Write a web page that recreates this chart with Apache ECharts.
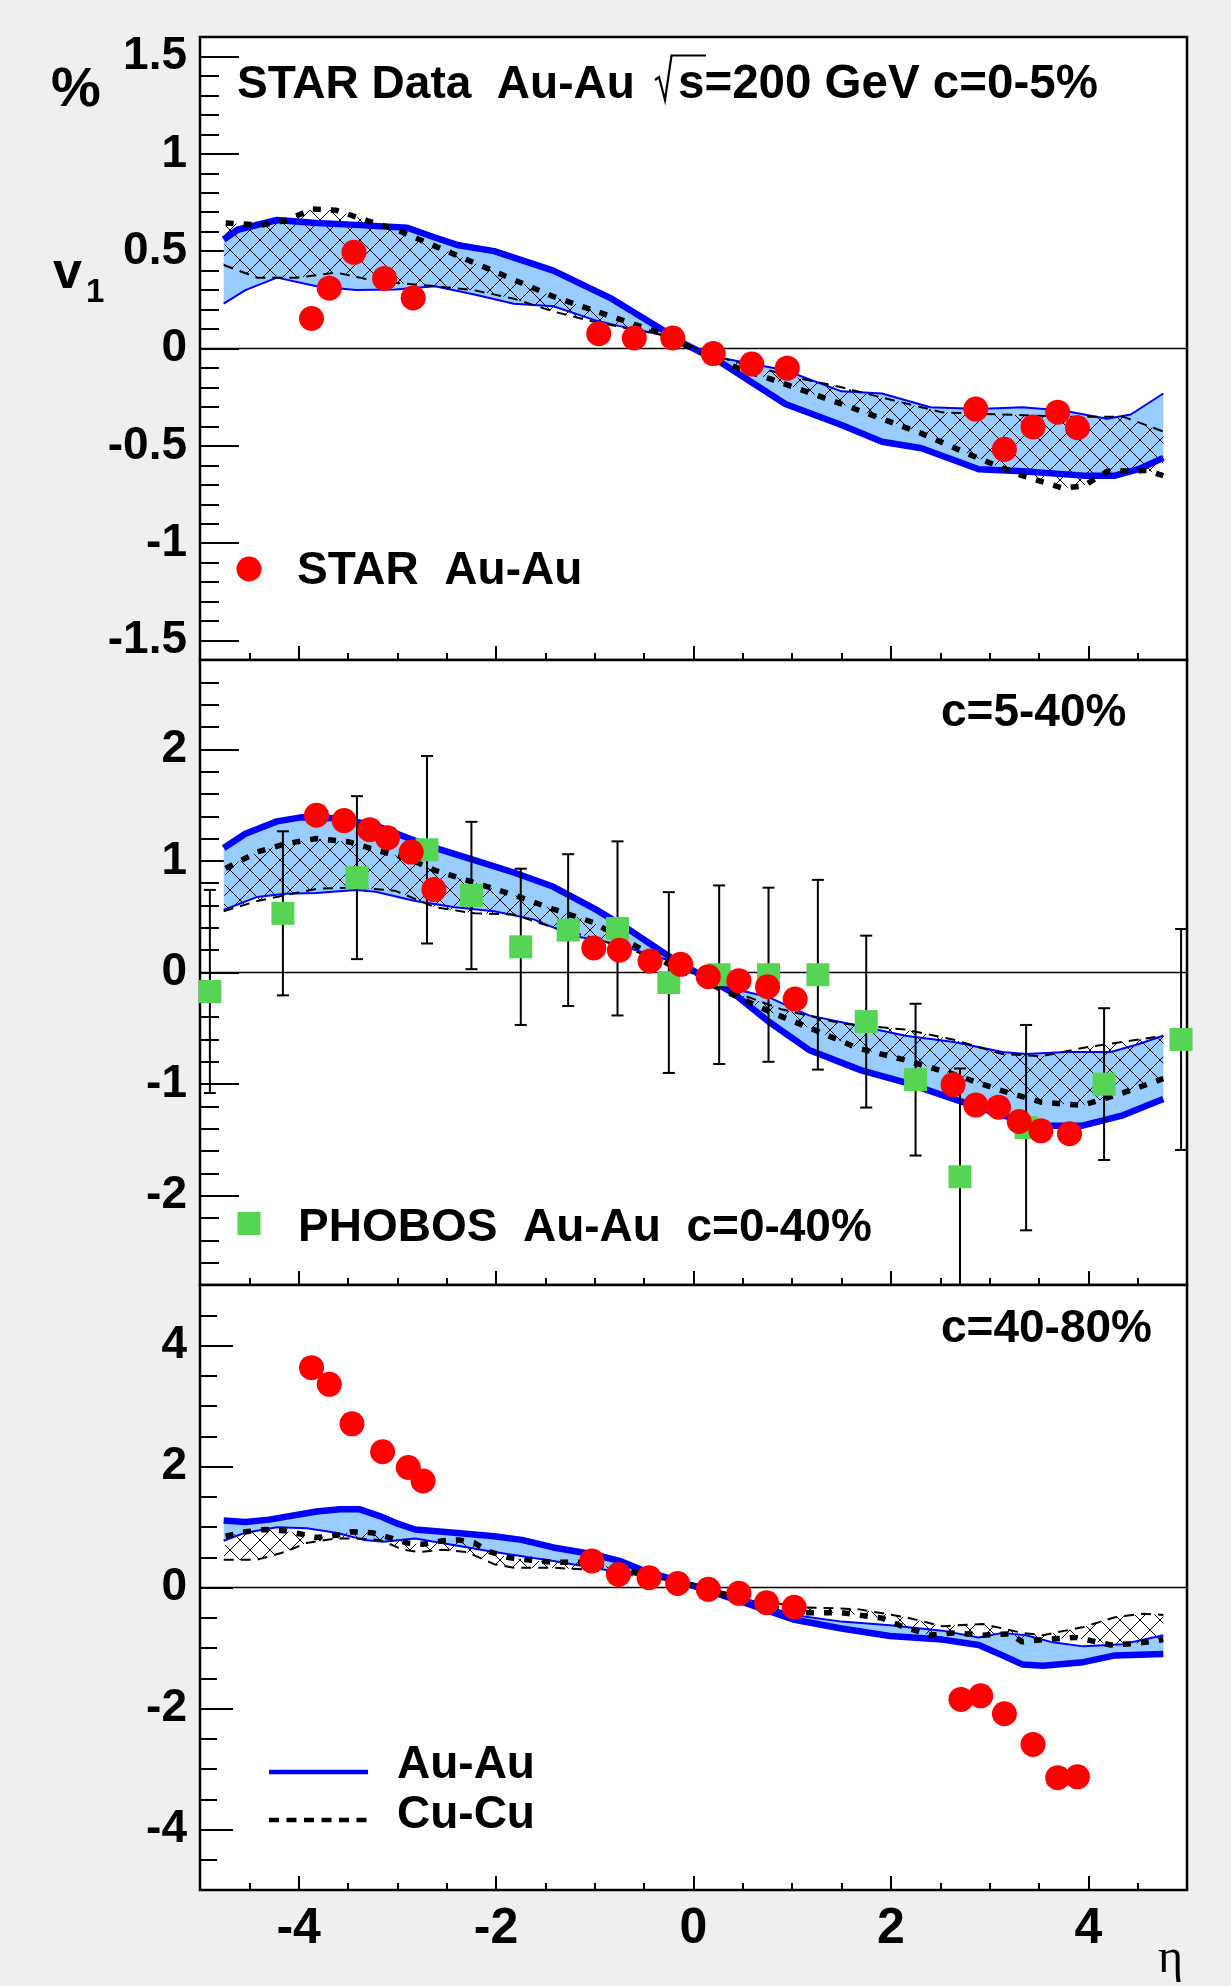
<!DOCTYPE html>
<html>
<head>
<meta charset="utf-8">
<title>STAR v1(eta)</title>
<script src="https://cdn.jsdelivr.net/npm/echarts@6/dist/echarts.min.js"></script>
<style>
html, body { margin: 0; padding: 0; background: #efefef; }
#main { width: 1231px; height: 1986px; }
</style>
</head>
<body>
<div id="main"></div>
<script>
// ---------- data ----------
// x ticks (eta)
var xMajor = [-4, -2, 0, 2, 4];

// panel 1 : c = 0-5%
var p1AuThick = [[-4.76,0.56],[-4.62,0.61],[-4.22,0.66],[-3.82,0.645],[-3.42,0.635],[-2.90,0.62],[-2.62,0.57],[-2.38,0.53],[-2.02,0.50],[-1.42,0.40],[-1.01,0.30],[-0.83,0.256],[-0.34,0.104],[-0.07,0.018],[0.27,-0.069],[0.93,-0.285],[1.50,-0.393],[1.91,-0.479],[2.31,-0.512],[2.89,-0.62],[3.33,-0.631],[3.95,-0.653],[4.27,-0.653],[4.51,-0.62],[4.76,-0.562]];
var p1AuThin = [[-4.76,0.23],[-4.54,0.30],[-4.22,0.364],[-3.82,0.32],[-3.42,0.30],[-3.02,0.303],[-2.62,0.32],[-2.22,0.277],[-1.82,0.23],[-1.42,0.217],[-1.01,0.147],[-0.75,0.115],[-0.34,0.072],[0.27,-0.047],[0.93,-0.112],[1.50,-0.22],[1.91,-0.231],[2.40,-0.302],[2.89,-0.311],[3.33,-0.302],[3.74,-0.318],[4.19,-0.361],[4.43,-0.339],[4.76,-0.231]];
var p1CuThick = [[-4.74,0.645],[-4.38,0.634],[-4.14,0.656],[-3.86,0.716],[-3.62,0.71],[-3.30,0.656],[-3.02,0.612],[-2.62,0.526],[-2.22,0.44],[-1.82,0.353],[-1.42,0.267],[-1.01,0.195],[-0.34,0.08],[0.27,-0.069],[0.77,-0.155],[1.50,-0.285],[2.31,-0.436],[2.89,-0.565],[3.33,-0.653],[3.74,-0.717],[3.95,-0.707],[4.19,-0.631],[4.60,-0.627],[4.76,-0.653]];
var p1CuThin = [[-4.76,0.429],[-4.42,0.364],[-4.02,0.364],[-3.62,0.39],[-3.22,0.346],[-2.62,0.32],[-2.22,0.299],[-1.82,0.256],[-1.42,0.19],[-1.01,0.137],[-0.34,0.072],[0.27,-0.047],[1.09,-0.155],[1.50,-0.199],[1.91,-0.252],[2.52,-0.328],[3.13,-0.339],[3.74,-0.35],[4.35,-0.35],[4.76,-0.426]];
var star1Eta = [-3.87,-3.69,-3.44,-3.13,-2.84,-0.96,-0.60,-0.21,0.20,0.59,0.95,2.86,3.15,3.44,3.69,3.89];
var star1V = [0.154,0.31,0.494,0.36,0.26,0.076,0.054,0.054,-0.026,-0.08,-0.101,-0.311,-0.518,-0.403,-0.327,-0.407];

// panel 2 : c = 5-40%
var p2AuThick = [[-4.76,1.116],[-4.54,1.244],[-4.22,1.354],[-3.98,1.39],[-3.62,1.383],[-3.22,1.317],[-2.90,1.207],[-2.62,1.116],[-2.22,1.006],[-1.82,0.896],[-1.42,0.768],[-1.0,0.57],[-0.68,0.40],[-0.25,0.146],[0.03,0],[0.40,-0.183],[0.76,-0.439],[1.17,-0.694],[1.70,-0.877],[2.15,-0.987],[2.64,-1.134],[3.13,-1.28],[3.53,-1.372],[3.94,-1.372],[4.35,-1.28],[4.76,-1.134]];
var p2AuThin = [[-4.76,0.56],[-4.42,0.677],[-4.14,0.706],[-3.82,0.713],[-3.42,0.739],[-3.22,0.724],[-2.82,0.64],[-2.42,0.585],[-2.02,0.549],[-1.62,0.476],[-1.22,0.33],[-0.82,0.263],[-0.25,0.11],[0.40,-0.146],[0.76,-0.22],[1.17,-0.384],[1.66,-0.475],[2.15,-0.567],[2.64,-0.622],[3.13,-0.713],[3.37,-0.731],[3.78,-0.713],[4.23,-0.713],[4.51,-0.64],[4.76,-0.567]];
var p2CuThick = [[-4.74,0.933],[-4.42,1.079],[-4.14,1.152],[-3.82,1.2],[-3.49,1.17],[-3.22,1.098],[-2.90,1.024],[-2.62,0.915],[-2.22,0.805],[-1.82,0.695],[-1.42,0.567],[-1.02,0.45],[-0.25,0.073],[0.40,-0.2],[0.76,-0.348],[1.17,-0.494],[1.66,-0.676],[2.15,-0.786],[2.64,-0.914],[3.13,-1.061],[3.53,-1.163],[3.94,-1.19],[4.35,-1.079],[4.76,-0.951]];
var p2CuThin = [[-4.76,0.549],[-4.42,0.64],[-4.22,0.677],[-3.82,0.75],[-3.42,0.761],[-3.02,0.732],[-2.62,0.585],[-2.22,0.53],[-1.82,0.52],[-1.42,0.402],[-1.02,0.311],[-0.25,0.09],[0.40,-0.17],[0.89,-0.329],[1.50,-0.457],[2.15,-0.512],[2.64,-0.603],[3.13,-0.731],[3.53,-0.75],[3.94,-0.676],[4.35,-0.622],[4.76,-0.567]];
var star2Eta = [-3.82,-3.54,-3.28,-3.10,-2.86,-2.63,-1.01,-0.75,-0.44,-0.13,0.15,0.46,0.75,1.03,2.63,2.86,3.09,3.30,3.52,3.81];
var star2V = [1.409,1.361,1.28,1.207,1.079,0.743,0.22,0.2,0.103,0.073,-0.037,-0.073,-0.128,-0.238,-1.005,-1.188,-1.207,-1.335,-1.419,-1.444];
var phobosEta = [-4.90,-4.16,-3.41,-2.70,-2.25,-1.75,-1.27,-0.77,-0.25,0.26,0.76,1.26,1.75,2.25,2.70,3.37,4.16,4.94];
var phobosV = [-0.17,0.53,0.85,1.10,0.69,0.23,0.38,0.395,-0.09,-0.02,-0.02,-0.02,-0.44,-0.96,-1.83,-1.39,-1.00,-0.60];
var phobosErr = [0.91,0.735,0.73,0.84,0.66,0.70,0.68,0.78,0.81,0.80,0.78,0.85,0.77,0.68,0.97,0.92,0.68,0.99];

// panel 3 : c = 40-80%
var p3AuThick = [[-4.76,1.107],[-4.54,1.084],[-4.30,1.122],[-3.82,1.256],[-3.58,1.292],[-3.38,1.292],[-3.18,1.181],[-3.02,1.069],[-2.82,0.959],[-2.42,0.906],[-2.02,0.847],[-1.74,0.787],[-1.42,0.662],[-1.02,0.55],[-0.75,0.44],[-0.54,0.30],[-0.01,0.03],[0.48,-0.231],[1.01,-0.528],[1.50,-0.677],[1.99,-0.802],[2.52,-0.861],[2.89,-0.95],[3.13,-1.122],[3.33,-1.271],[3.54,-1.294],[3.95,-1.234],[4.27,-1.122],[4.76,-1.099]];
var p3AuThin = [[-4.76,0.772],[-4.54,0.906],[-4.22,0.995],[-3.92,0.98],[-3.62,0.906],[-3.34,0.787],[-3.14,0.757],[-2.82,0.81],[-2.42,0.698],[-2.02,0.587],[-1.42,0.439],[-1.02,0.327],[-0.745,0.252],[-0.01,0.066],[0.48,-0.157],[1.01,-0.454],[1.50,-0.564],[1.99,-0.624],[2.52,-0.713],[2.89,-0.825],[3.13,-0.75],[3.37,-0.788],[3.62,-0.899],[3.95,-0.973],[4.35,-0.936],[4.76,-0.788]];
var p3CuThick = [[-4.74,0.847],[-4.54,0.921],[-4.34,0.959],[-4.14,0.936],[-3.98,0.885],[-3.82,0.826],[-3.62,0.862],[-3.46,0.921],[-3.26,0.906],[-3.10,0.833],[-2.90,0.737],[-2.74,0.714],[-2.54,0.773],[-2.38,0.787],[-2.22,0.737],[-2.06,0.587],[-1.86,0.491],[-1.66,0.454],[-1.42,0.417],[-1.10,0.417],[-0.745,0.312],[-0.01,0.03],[0.48,-0.194],[1.01,-0.417],[1.50,-0.417],[1.91,-0.506],[2.11,-0.64],[2.40,-0.788],[2.64,-0.75],[2.93,-0.788],[3.21,-0.766],[3.33,-0.899],[3.54,-0.861],[3.87,-0.825],[4.23,-0.95],[4.51,-0.921],[4.76,-0.861]];
var p3CuThin = [[-4.76,0.46],[-4.42,0.46],[-4.14,0.587],[-3.92,0.737],[-3.62,0.81],[-3.42,0.81],[-3.18,0.787],[-2.94,0.624],[-2.78,0.587],[-2.54,0.624],[-2.30,0.587],[-2.02,0.386],[-1.82,0.327],[-1.42,0.327],[-1.02,0.29],[-0.01,0.066],[0.48,-0.157],[1.09,-0.327],[1.66,-0.357],[2.15,-0.491],[2.52,-0.64],[2.93,-0.602],[3.33,-0.75],[3.54,-0.788],[3.95,-0.654],[4.27,-0.491],[4.56,-0.432],[4.76,-0.454]];
var star3Eta = [-3.87,-3.69,-3.46,-3.15,-2.89,-2.74,-1.03,-0.76,-0.45,-0.16,0.15,0.46,0.74,1.02,2.71,2.91,3.15,3.44,3.69,3.89];
var star3V = [3.634,3.358,2.705,2.244,1.983,1.761,0.439,0.215,0.163,0.066,-0.03,-0.097,-0.252,-0.327,-1.85,-1.79,-2.087,-2.594,-3.144,-3.129];

// y axes of the three pads
var yMin = [-1.6, -2.8, -5];
var yMax = [1.6, 2.8, 5];
var yMinorStep = [0.1, 0.2, 0.5];
var yMajor = [[-1.5,-1,-0.5,0,0.5,1,1.5], [-2,-1,0,1,2], [-4,-2,0,2,4]];

// ---------- styling ----------
var FONT = '"Liberation Sans", Arial, Helvetica, sans-serif';
var BLUE = '#0000ff', BAND = '#99ccff', RED = '#ff0000', GREEN = '#55d455';

var hatch = document.createElement('canvas');
hatch.width = 20; hatch.height = 20;
var hc = hatch.getContext('2d');
hc.strokeStyle = '#000'; hc.lineWidth = 1;
hc.beginPath();
hc.moveTo(-2, -2); hc.lineTo(22, 22);
hc.moveTo(22, -2); hc.lineTo(-2, 22);
hc.stroke();
var hatchFill = { image: hatch, repeat: 'repeat' };

var grids = [
  { left: 200, top: 37, width: 987, height: 623 },
  { left: 200, top: 660, width: 987, height: 625 },
  { left: 200, top: 1285, width: 987, height: 605 }
];
var yTickLen = [[39, 19], [39, 19], [33, 17]];

var xAxes = [], yAxes = [], series = [];
grids.forEach(function (g, gi) {
  g.show = true; g.backgroundColor = '#fff'; g.borderColor = '#000'; g.borderWidth = 2.5;
  xAxes.push({
    gridIndex: gi, type: 'value', min: -5, max: 5, interval: 0.5, position: 'bottom',
    axisLine: { show: false, onZero: false },
    axisTick: { inside: true, length: 7, lineStyle: { color: '#000', width: 2 } },
    axisLabel: { show: false }, splitLine: { show: false }
  });
  xAxes.push({
    gridIndex: gi, type: 'value', min: -5, max: 5, position: 'bottom',
    axisLine: { show: false, onZero: false },
    axisTick: { inside: true, length: 14, customValues: xMajor, lineStyle: { color: '#000', width: 2 } },
    axisLabel: { show: gi === 2, customValues: xMajor, margin: 14, color: '#000',
      fontSize: 50, fontWeight: 'bold', fontFamily: FONT },
    splitLine: { show: false }
  });
  yAxes.push({
    gridIndex: gi, type: 'value', min: yMin[gi], max: yMax[gi], interval: yMinorStep[gi], position: 'left',
    axisLine: { show: false, onZero: false },
    axisTick: { inside: true, length: yTickLen[gi][1], lineStyle: { color: '#000', width: 2 } },
    axisLabel: { show: false }, splitLine: { show: false }
  });
  yAxes.push({
    gridIndex: gi, type: 'value', min: yMin[gi], max: yMax[gi], position: 'left',
    axisLine: { show: false, onZero: false },
    axisTick: { inside: true, length: yTickLen[gi][0], customValues: yMajor[gi], lineStyle: { color: '#000', width: 2 } },
    axisLabel: { customValues: yMajor[gi], margin: 13, color: '#000',
      fontSize: 46, fontWeight: 'bold', fontFamily: FONT, padding: [7, 0, 0, 0] },
    splitLine: { show: false }
  });
});

function ax(gi) { return { xAxisIndex: gi * 2, yAxisIndex: gi * 2 }; }

function band(gi, a, b, fill) {
  return Object.assign({
    type: 'custom', silent: true, data: [[0, 0]], z: 1,
    renderItem: function (params, api) {
      var pts = a.map(function (p) { return api.coord(p); })
        .concat(b.slice().reverse().map(function (p) { return api.coord(p); }));
      return { type: 'polygon', shape: { points: pts }, style: { fill: fill, stroke: null } };
    }
  }, ax(gi));
}

function curve(gi, pts, color, width, dash, z) {
  return Object.assign({
    type: 'line', data: pts, showSymbol: false, symbol: 'none', silent: true, z: z,
    lineStyle: { color: color, width: width, type: dash || 'solid', cap: 'butt' }
  }, ax(gi));
}

function zeroLine(gi) {
  return Object.assign({
    type: 'line', data: [[-5, 0], [5, 0]], showSymbol: false, symbol: 'none', silent: true, z: 2,
    lineStyle: { color: '#000', width: 1.5 }
  }, ax(gi));
}

function zip(xs, ys) { return xs.map(function (x, i) { return [x, ys[i]]; }); }

function stars(gi, eta, v) {
  return Object.assign({
    type: 'scatter', data: zip(eta, v), symbol: 'circle', symbolSize: 25, clip: false, z: 6,
    itemStyle: { color: RED, opacity: 1 }, silent: true
  }, ax(gi));
}

var panels = [
  [p1AuThick, p1AuThin, p1CuThick, p1CuThin],
  [p2AuThick, p2AuThin, p2CuThick, p2CuThin],
  [p3AuThick, p3AuThin, p3CuThick, p3CuThin]
];
panels.forEach(function (c, gi) {
  series.push(band(gi, c[0], c[1], BAND));
  series.push(band(gi, c[2], c[3], hatchFill));
  series.push(zeroLine(gi));
  series.push(curve(gi, c[0], BLUE, 6.5, null, 3));
  series.push(curve(gi, c[1], BLUE, 2, null, 3));
  series.push(curve(gi, c[2], '#000', 5.5, [8, 10], 4));
  series.push(curve(gi, c[3], '#000', 2, [10, 7], 4));
});

// PHOBOS error bars and squares
series.push(Object.assign({
  type: 'custom', silent: true, clip: true, z: 5,
  data: phobosEta.map(function (x, i) { return [x, phobosV[i], phobosErr[i]]; }),
  encode: { x: 0, y: 1 },
  renderItem: function (params, api) {
    var x = api.value(0), y = api.value(1), e = api.value(2);
    var t = api.coord([x, y + e]), b = api.coord([x, y - e]);
    var st = { stroke: '#000', lineWidth: 2 };
    return { type: 'group', children: [
      { type: 'line', shape: { x1: t[0], y1: t[1], x2: b[0], y2: b[1] }, style: st },
      { type: 'line', shape: { x1: t[0] - 6, y1: t[1], x2: t[0] + 6, y2: t[1] }, style: st },
      { type: 'line', shape: { x1: b[0] - 6, y1: b[1], x2: b[0] + 6, y2: b[1] }, style: st }
    ] };
  }
}, ax(1)));
series.push(Object.assign({
  type: 'scatter', data: zip(phobosEta, phobosV), symbol: 'rect', symbolSize: 23, clip: false, z: 6,
  itemStyle: { color: GREEN, opacity: 1 }, silent: true
}, ax(1)));

series.push(stars(0, star1Eta, star1V));
series.push(stars(1, star2Eta, star2V));
series.push(stars(2, star3Eta, star3V));

function txt(x, y, s, size, extra) {
  var o = { type: 'text', x: x, y: y, z: 100,
    style: { text: s, font: 'bold ' + size + 'px ' + FONT, fill: '#000', verticalAlign: 'middle' } };
  if (extra) Object.assign(o.style, extra);
  return o;
}

var graphic = [
  txt(237, 85, 'STAR Data  Au-Au', 46),
  { type: 'polyline', z: 100, shape: { points: [[655, 80], [659, 77], [665, 100], [671.5, 55.5], [706, 55.5]] },
    style: { stroke: '#000', lineWidth: 2.2, fill: null } },
  txt(678, 85, 's=200 GeV c=0-5%', 47.5),
  txt(941, 713, 'c=5-40%', 46),
  txt(941, 1329, 'c=40-80%', 46),
  txt(297, 571, 'STAR  Au-Au', 46),
  txt(298, 1228, 'PHOBOS  Au-Au  c=0-40%', 46),
  txt(397, 1765, 'Au-Au', 46),
  txt(397, 1815, 'Cu-Cu', 46),
  txt(51, 91, '%', 56),
  txt(53, 274, 'v', 52),
  txt(86, 293, '1', 33),
  { type: 'text', x: 1183, y: 1959, z: 100,
    style: { text: 'η', font: '48px "Liberation Serif", "DejaVu Serif", serif', fill: '#000',
      align: 'right', verticalAlign: 'middle' } },
  { type: 'circle', z: 100, shape: { cx: 249, cy: 569, r: 12.5 }, style: { fill: RED } },
  { type: 'rect', z: 100, shape: { x: 237.5, y: 1212, width: 23, height: 23 }, style: { fill: GREEN } },
  { type: 'line', z: 100, shape: { x1: 269, y1: 1772, x2: 368, y2: 1772 }, style: { stroke: BLUE, lineWidth: 4.5 } },
  { type: 'line', z: 100, shape: { x1: 269, y1: 1820, x2: 368, y2: 1820 },
    style: { stroke: '#000', lineWidth: 4.5, lineDash: [10, 7.5] } }
];

var chart = echarts.init(document.getElementById('main'), null, { renderer: 'canvas' });
chart.setOption({
  backgroundColor: '#efefef',
  animation: false,
  grid: grids,
  xAxis: xAxes,
  yAxis: yAxes,
  series: series,
  graphic: graphic
});
</script>
</body>
</html>
